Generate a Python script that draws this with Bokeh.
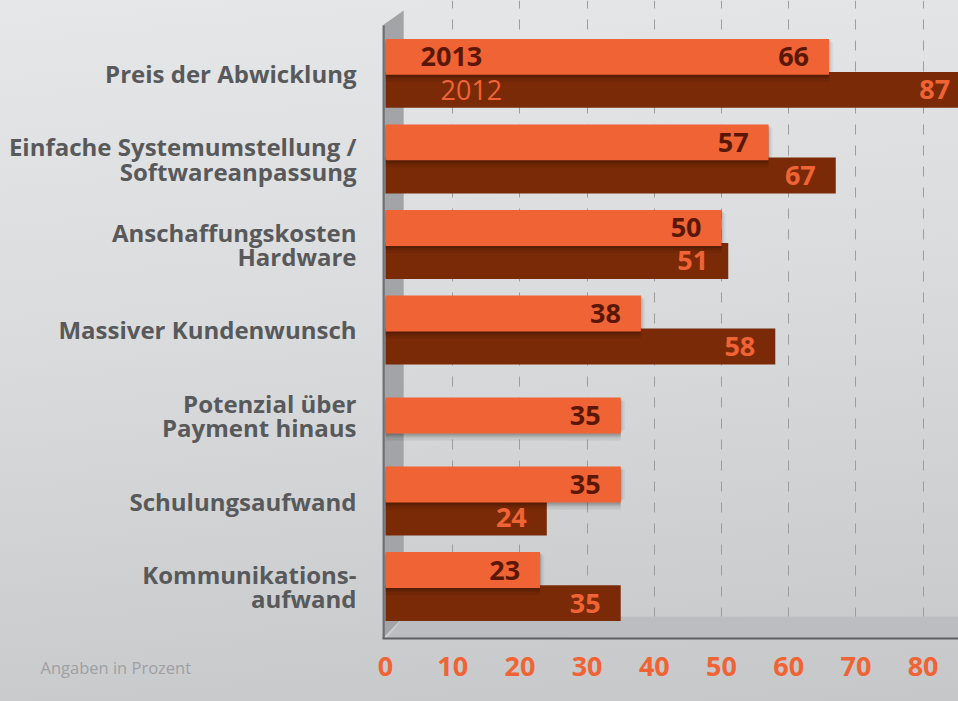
from bokeh.plotting import figure
from bokeh.models import ColumnDataSource, FixedTicker, Label
from bokeh.core.properties import value
from bokeh.transform import dodge
from bokeh.embed import file_html
from bokeh.resources import INLINE

# ---------------- data ----------------
categories = [
    "Preis der Abwicklung",
    "Einfache Systemumstellung /\nSoftwareanpassung",
    "Anschaffungskosten\nHardware",
    "Massiver Kundenwunsch",
    "Potenzial über\nPayment hinaus",
    "Schulungsaufwand",
    "Kommunikations-\naufwand",
]
values_2013 = [66, 57, 50, 38, 35, 35, 23]
values_2012 = [87, 67, 51, 58, None, 24, 35]
x_ticks = [0, 10, 20, 30, 40, 50, 60, 70, 80]
grid_ticks = [10, 20, 30, 40, 50, 60, 70, 80]
series_names = ["2013", "2012"]
note = "Angaben in Prozent"

# ---------------- style ----------------
ORANGE = "#F06334"
BROWN = "#7A2A07"
DARK_TXT = "#5A1804"
CAT_TXT = "#58595B"
FONT = "Open Sans"

W, H = 958, 701
FRAME_LEFT = 382
FRAME_BOTTOM_PX = 639
PX_PER_UNIT = 6.72
PX_PER_CAT = 85.67
X_START = -0.45
X_END = X_START + (W - FRAME_LEFT) / PX_PER_UNIT
Y_START, Y_END = -0.607, 6.852
BAR_H = 0.42
DODGE = 0.193
FLOOR_TOP = -0.35
WALL_RIGHT = 2.7
WALL_TOP_L, WALL_TOP_R = 6.56, 6.735
NOTE_X_PX, NOTE_Y_PX = 40, 668

n = len(categories)
pos = [n - 1 - i for i in range(n)]

y13, y12, v12 = [], [], []
for i, p_ in enumerate(pos):
    if values_2012[i] is None:
        y13.append(p_)
    else:
        y13.append(p_ + DODGE)
        y12.append(p_ - DODGE)
        v12.append(values_2012[i])

def label_pos(vals):
    xs, offs = [], []
    for v in vals:
        a = min(v, X_END - 0.1)
        xs.append(a)
        offs.append(-20 + (v - a) * PX_PER_UNIT)
    return xs, offs

lx13, lo13 = label_pos(values_2013)
lx12, lo12 = label_pos(v12)

src13 = ColumnDataSource(dict(y=y13, v=values_2013, lx=lx13, lo=lo13,
                              t=[str(v) for v in values_2013]))
src12 = ColumnDataSource(dict(y=y12, v=v12, lx=lx12, lo=lo12,
                              t=[str(v) for v in v12]))

p = figure(width=W, height=H, output_backend="svg", toolbar_location=None,
           x_range=(X_START, X_END), y_range=(Y_START, Y_END),
           min_border_left=FRAME_LEFT, min_border_right=0, min_border_top=0,
           min_border_bottom=H - FRAME_BOTTOM_PX)
p.styles = {"background": "linear-gradient(175deg, #E6E7E8 0%, #DADBDC 45%, #C6C7C9 100%)"}
p.background_fill_alpha = 0
p.border_fill_alpha = 0
p.outline_line_color = None

# grid
p.ygrid.visible = False
p.xgrid.ticker = FixedTicker(ticks=grid_ticks)
p.xgrid.grid_line_color = "#9C9DA0"
p.xgrid.grid_line_dash = "10 11"
p.xgrid.grid_line_width = 1

# back wall and floor (decoration)
p.patch([X_START, X_START, WALL_RIGHT, WALL_RIGHT],
        [Y_START, WALL_TOP_L, WALL_TOP_R, FLOOR_TOP],
        fill_color="#A3A4A7", line_color=None)
p.patch([0.2, WALL_RIGHT, X_END, X_END],
        [Y_START, FLOOR_TOP, FLOOR_TOP, Y_START],
        fill_color="#BCBDC0", line_color=None)
p.segment(x0=[X_START + 0.15], y0=[Y_START], x1=[X_START + 0.15], y1=[WALL_TOP_L],
          line_color="#6E6F72", line_width=2.5)

# 2012 bars
p.hbar(y="y", right="v", left=0, height=BAR_H, source=src12,
       fill_color=BROWN, line_color=None)
# soft shadows of 2013 bars
for dpx, a in [(7, 0.07), (4, 0.10), (2, 0.14)]:
    dyu = dpx / PX_PER_CAT
    p.hbar(y=dodge("y", -dyu), right="v", left=0, height=BAR_H, source=src13,
           fill_color="black", fill_alpha=a, line_color=None)
    p.hbar(y="y", right=dodge("v", dpx / PX_PER_UNIT * 0.6), left=0, height=BAR_H - dyu,
           source=src13, fill_color="black", fill_alpha=a * 0.6, line_color=None)
# 2013 bars
p.hbar(y="y", right="v", left=0, height=BAR_H, source=src13,
       fill_color=ORANGE, line_color=None)

# value labels
p.text(x="lx", y="y", text="t", x_offset="lo", source=src13,
       text_align="right", text_baseline="middle", text_color=DARK_TXT,
       text_font=value(FONT), text_font_style="bold", text_font_size="27px")
p.text(x="lx", y="y", text="t", x_offset="lo", source=src12,
       text_align="right", text_baseline="middle", text_color=ORANGE,
       text_font=value(FONT), text_font_style="bold", text_font_size="27px")

# series names inside the first group
p.text(x=[0], y=[y13[0]], text=[series_names[0]], x_offset=35,
       text_align="left", text_baseline="middle", text_color=DARK_TXT,
       text_font=value(FONT), text_font_style="bold", text_font_size="27px")
p.text(x=[0], y=[y12[0]], text=[series_names[1]], x_offset=55,
       text_align="left", text_baseline="middle", text_color=ORANGE,
       text_font=value(FONT), text_font_style="normal", text_font_size="27px")

# axes
p.yaxis.ticker = FixedTicker(ticks=pos)
p.yaxis.major_label_overrides = {pp: c for pp, c in zip(pos, categories)}
p.yaxis.axis_line_color = None
p.yaxis.major_tick_line_color = None
p.yaxis.minor_tick_line_color = None
p.yaxis.major_label_standoff = 20
p.yaxis.major_label_text_font = FONT
p.yaxis.major_label_text_font_style = "bold"
p.yaxis.major_label_text_font_size = "24px"
p.yaxis.major_label_text_color = CAT_TXT
p.yaxis.major_label_text_line_height = 0.75

p.xaxis.ticker = FixedTicker(ticks=x_ticks)
p.xaxis.axis_line_color = "#5E5F62"
p.xaxis.axis_line_width = 2
p.xaxis.major_tick_line_color = None
p.xaxis.minor_tick_line_color = None
p.xaxis.major_label_standoff = 12
p.xaxis.major_label_text_font = FONT
p.xaxis.major_label_text_font_style = "bold"
p.xaxis.major_label_text_font_size = "27px"
p.xaxis.major_label_text_color = ORANGE

# note below the plot area, left side (placed in the bottom panel so it is not clipped)
note_x = X_START + (NOTE_X_PX - FRAME_LEFT) / PX_PER_UNIT
note_y = Y_START - (NOTE_Y_PX - FRAME_BOTTOM_PX) / PX_PER_CAT
p.add_layout(Label(x=note_x, y=note_y, text=note,
                   text_font=FONT, text_font_size="16.5px", text_color="#9FA0A3",
                   text_baseline="middle"), "below")

open("out.html", "w").write(file_html(p, INLINE))
